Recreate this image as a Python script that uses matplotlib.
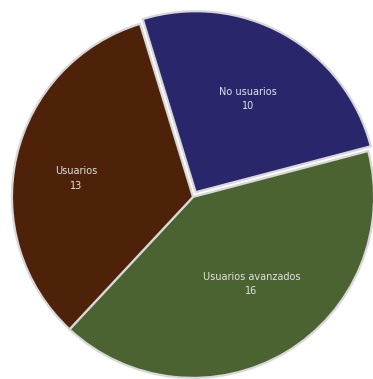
import numpy as np
import matplotlib.pyplot as plt

categories = ["No usuarios", "Usuarios avanzados", "Usuarios"]
values = [10, 16, 13]
colors = ["#29266c", "#4a6331", "#4e2109"]
explode = [0.03, 0, 0]

fig = plt.figure(figsize=(3.73, 3.79), dpi=100)
ax = fig.add_axes([0, 0, 1, 1])

wedges, _ = ax.pie(values, colors=colors, explode=explode, startangle=107,
                   counterclock=False, radius=1.0,
                   wedgeprops=dict(edgecolor="#d8d8d8", linewidth=1.6))

# labels inside each slice (distance from centre, small angle nudge)
dists = [0.59, 0.58, 0.655]
nudge = [0, 3, 4]
for w, name, val, d, n in zip(wedges, categories, values, dists, nudge):
    ang = np.deg2rad((w.theta1 + w.theta2) / 2 + n)
    cx, cy = w.center
    ax.text(cx + d * np.cos(ang), cy + d * np.sin(ang), f"{name}\n{val}",
            ha="center", va="center", color="#e2e2e2", fontsize=7,
            linespacing=1.55)

ax.set_xlim(-1.066, 0.994)
ax.set_ylim(-1.006, 1.088)
ax.set_aspect("auto")
ax.axis("off")

fig.savefig("out.png", dpi=100)
